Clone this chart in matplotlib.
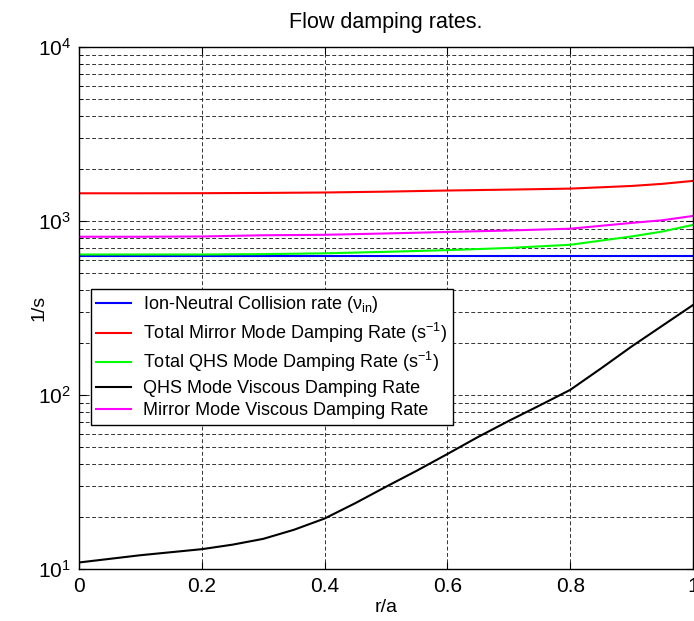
import numpy as np
import matplotlib
matplotlib.use("Agg")
import matplotlib.pyplot as plt
from matplotlib.ticker import LogLocator, NullFormatter

plt.rcParams["font.family"] = ["Liberation Sans", "DejaVu Sans"]
plt.rcParams["mathtext.fontset"] = "custom"
plt.rcParams["mathtext.rm"] = "Liberation Sans"
plt.rcParams["mathtext.it"] = "Liberation Sans"
plt.rcParams["mathtext.default"] = "regular"

# r/a sample points
r = [0.0, 0.1, 0.2, 0.3, 0.4, 0.5, 0.6, 0.7, 0.8, 0.9, 0.95, 1.0]
ion_neutral = [632, 632, 632, 632, 632, 632, 632, 632, 632, 632, 632, 632]
total_mirror = [1443, 1443, 1445, 1450, 1458, 1475, 1497, 1515, 1535, 1590, 1635, 1700]
total_qhs = [642, 642, 642, 645, 652, 665, 680, 700, 730, 815, 870, 950]
mirror_visc = [812, 812, 815, 828, 833, 848, 865, 882, 903, 975, 1010, 1069]

r_qhs = [0.0, 0.1, 0.2, 0.25, 0.3, 0.35, 0.4, 0.45, 0.5, 0.55, 0.6, 0.65,
         0.7, 0.75, 0.8, 0.85, 0.9, 0.95, 1.0]
qhs_visc = [10.9, 12.0, 13.0, 13.8, 14.9, 16.8, 19.5, 23.9, 29.7, 36.7, 45.8,
            57.4, 71.0, 87.0, 107, 142, 190, 250, 329]

labels = [
    r"Ion-Neutral Collision rate ($\nu_{in}$)",
    r"Total Mirror Mode Damping Rate (s$^{-1}$)",
    r"Total QHS Mode Damping Rate (s$^{-1}$)",
    "QHS Mode Viscous Damping Rate",
    "Mirror Mode Viscous Damping Rate",
]

fig = plt.figure(figsize=(6.94, 6.21), dpi=100)
ax = fig.add_axes([79 / 694, 52 / 621, 614 / 694, 522 / 621])

ax.plot(r, ion_neutral, color=(0, 0, 1), lw=1.5, label=labels[0])
ax.plot(r, total_mirror, color=(1, 0, 0), lw=1.5, label=labels[1])
ax.plot(r, total_qhs, color=(0, 1, 0), lw=1.5, label=labels[2])
ax.plot(r_qhs, qhs_visc, color="k", lw=1.5, label=labels[3])
ax.plot(r, mirror_visc, color=(1, 0, 1), lw=1.5, label=labels[4])

ax.set_yscale("log")
ax.set_xlim(0, 1)
ax.set_ylim(10, 1e4)
ax.set_xticks([0, 0.2, 0.4, 0.6, 0.8, 1.0])
ax.set_xticklabels(["0", "0.2", "0.4", "0.6", "0.8", "1"])
ax.yaxis.set_major_locator(LogLocator(base=10, numticks=10))
ax.yaxis.set_minor_locator(LogLocator(base=10, subs=np.arange(2, 10), numticks=20))
ax.yaxis.set_minor_formatter(NullFormatter())

ax.tick_params(which="both", direction="in", top=True, right=True, labelsize=15, pad=6)
ax.tick_params(which="major", length=5, width=0.8)
ax.tick_params(which="minor", length=3, width=0.6)

grid_style = dict(color="#333333", linestyle=(0, (4, 2.5)), linewidth=0.7)
ax.grid(True, which="major", axis="both", **grid_style)
ax.grid(True, which="minor", axis="y", **grid_style)

for s in ax.spines.values():
    s.set_linewidth(1.0)

ax.set_title("Flow damping rates.", fontsize=15.5, pad=14)
ax.set_xlabel("r/a", fontsize=14)
ax.set_ylabel("1/s", fontsize=14)
ax.xaxis.set_label_coords(0.5, -0.058)
ax.yaxis.set_label_coords(-0.052, 0.5)

leg = ax.legend(loc="upper left", bbox_to_anchor=(12 / 614, 1 - 242 / 522),
                fontsize=13, frameon=True, fancybox=False, framealpha=1,
                edgecolor="k", handlelength=1.9, handletextpad=0.7,
                borderaxespad=0, labelspacing=0.3, borderpad=0.3)
leg.get_frame().set_linewidth(1.0)

fig.savefig("out.png", dpi=100)
